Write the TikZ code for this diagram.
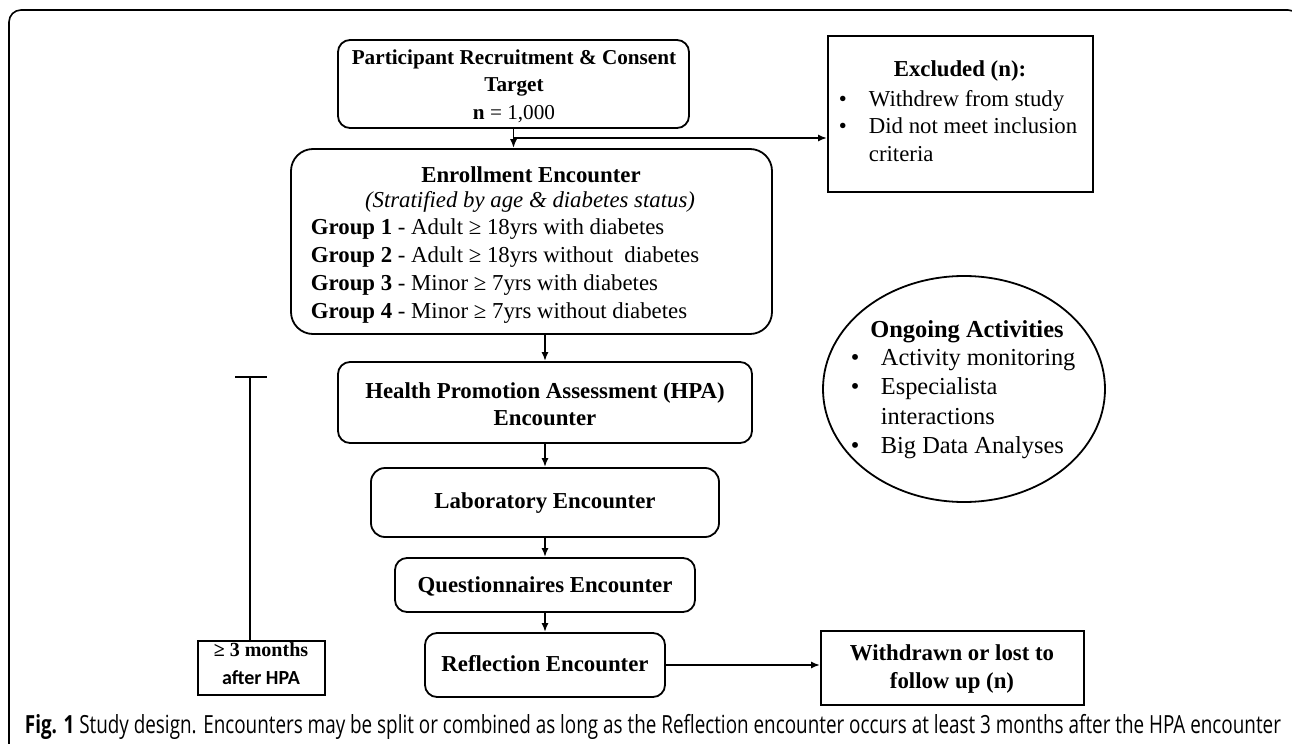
\documentclass[tikz,border=0pt]{standalone}
\usepackage{fontspec}
\usepackage{graphicx}
\setmainfont{Liberation Serif}
\newfontfamily\capfont{Open Sans}
\newfontfamily\calfont{Carlito}
\usetikzlibrary{arrows.meta,shapes.geometric,calc}
\newcommand{\bul}{\makebox[15pt][l]{\textbullet}}
\newcommand{\nobul}{\hspace*{15pt}}
\begin{document}
\begin{tikzpicture}[x=0.5pt,y=-0.5pt,
  line width=0.9pt,
  arr/.style={-{Latex[length=4.5pt,width=3.5pt]}},
  rbox/.style={draw,rounded corners=#1,inner sep=0pt},
  rbox/.default=6pt,
  sbox/.style={draw,inner sep=0pt},
  txt/.style={inner sep=0pt,font=\fontsize{11.4}{13.9}\selectfont},
  btxt/.style={inner sep=0pt,font=\fontsize{11.4}{13.75}\selectfont\bfseries},
]
\useasboundingbox (0,0) rectangle (1292,744);
% frame
\begin{scope}
\clip (0,0) rectangle (1292,744);
\draw[line width=0.8pt,rounded corners=6pt] (9,760) -- (9,10) -- (1300,10) -- (1300,760);
\end{scope}

% boxes
\node[rbox=6pt,minimum width=175.5pt,minimum height=44pt] (rec) at (513.5,84) {};
\node[sbox,minimum width=132.5pt,minimum height=78pt] (exc) at (960.5,114) {};
\node[rbox=11pt,minimum width=240.5pt,minimum height=92.5pt] (enr) at (531.5,241.5) {};
\node[rbox=6pt,minimum width=207pt,minimum height=40.5pt] (hpa) at (545,402.5) {};
\node[rbox=7pt,minimum width=174pt,minimum height=34.5pt] (lab) at (545,502.5) {};
\node[rbox=6pt,minimum width=150pt,minimum height=27pt] (que) at (545,585) {};
\node[rbox=6pt,minimum width=120pt,minimum height=32pt] (ref) at (545,665) {};
\node[sbox,minimum width=131.5pt,minimum height=37pt] (wd) at (952.5,668) {};
\node[sbox,minimum width=63.5pt,minimum height=27pt] (mon) at (261.5,668) {};
\node[draw,ellipse,minimum width=141pt,minimum height=113pt,inner sep=0pt] (ong) at (964,389) {};

% texts
\node[inner sep=0pt,font=\fontsize{10.6}{13.75}\selectfont\bfseries,align=center] (rect) at (514,86) {Participant Recruitment \& Consent\\Target\\n {\mdseries = 1,000}};
\node[btxt] (exct) at (960,71) {Excluded (n):};
\node[txt,anchor=west,align=left] (excl) at (838,126) {\bul Withdrew from study\\\bul Did not meet inclusion\\\nobul criteria};
\node[btxt] (enrt) at (531,175) {Enrollment Encounter};
\node[txt] (enri) at (530,202) {\itshape (Stratified by age \& diabetes status)};
\node[txt,anchor=west,align=left] (enrg) at (310,271) {\textbf{Group 1} - Adult ≥ 18yrs with diabetes\\
\textbf{Group 2} - Adult ≥ 18yrs without\ \ diabetes\\
\textbf{Group 3} - Minor ≥ 7yrs with diabetes\\
\textbf{Group 4} - Minor ≥ 7yrs without diabetes};
\node[btxt,align=center] (hpat) at (545,404) {Health Promotion Assessment (HPA)\\Encounter};
\node[btxt] (labt) at (545,503) {Laboratory Encounter};
\node[btxt] (quet) at (545,586) {Questionnaires Encounter};
\node[btxt] (reft) at (545,664) {Reflection Encounter};
\node[btxt,align=center] (wdt) at (952,669) {Withdrawn or lost to\\follow up (n)};
\node[inner sep=0pt,font=\fontsize{10}{12}\selectfont\bfseries] (mon1) at (261,650) {≥ 3 months};
\node[inner sep=0pt,font=\fontsize{10}{12}\selectfont\calfont\bfseries] (mon2) at (261,678) {after HPA};
\node[inner sep=0pt,font=\fontsize{12.2}{14}\selectfont\bfseries] (ongt) at (967,332) {Ongoing Activities};
\node[inner sep=0pt,anchor=west,align=left,font=\fontsize{12.2}{14.6}\selectfont] (ongl) at (850,404) {\bul Activity monitoring\\\bul Especialista\\\nobul interactions\\\bul Big Data Analyses};

% connectors
\coordinate (br) at (514,138);
\draw[arr] (rec.south) -- (rec.south |- enr.north);
\draw[arr] (br) -- (br -| exc.west);
\draw[arr] (hpa.north |- enr.south) -- (hpa.north);
\draw[arr] (hpa.south) -- (lab.north);
\draw[arr] (lab.south) -- (que.north);
\draw[arr] (que.south) -- (ref.north);
\draw[arr] (ref.east) -- (ref.east -| wd.west);

% timeline
\coordinate (tl) at (250,377);
\coordinate (tla) at (235,377);
\coordinate (tlb) at (267,377);
\draw (tla) -- (tlb);
\draw (tl) -- (tl |- mon.north);

% caption
\node[anchor=west,inner sep=0pt] (cap) at (24,727) {\resizebox{628pt}{\height}{\capfont\fontsize{12.5}{14}\selectfont\textbf{Fig. 1} Study design. Encounters may be split or combined as long as the Reflection encounter occurs at least 3 months after the HPA encounter}};
\end{tikzpicture}
\end{document}
